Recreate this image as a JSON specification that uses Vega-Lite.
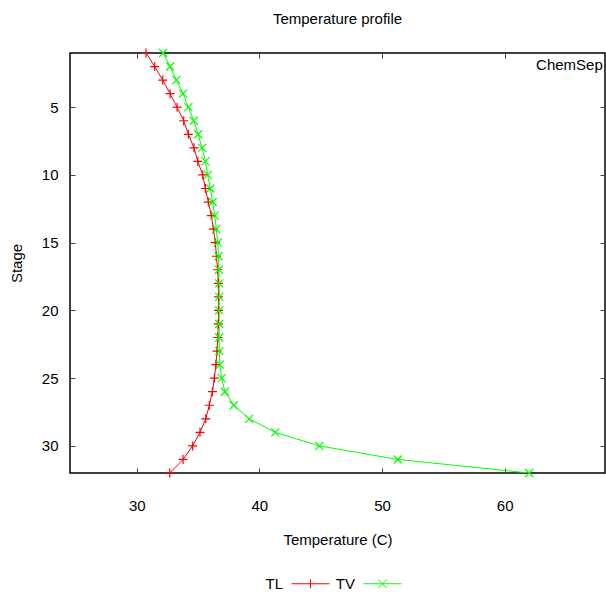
{
  "$schema": "https://vega.github.io/schema/vega-lite/v6.json",
  "width": 535,
  "height": 420,
  "autosize": {"type": "none"},
  "padding": {"left": 70, "top": 53, "right": 1, "bottom": 119},
  "background": "white",
  "config": {
    "font": "Liberation Sans",
    "view": {"stroke": "#000", "strokeWidth": 1.5},
    "axis": {
      "grid": false,
      "domain": false,
      "tickColor": "#444",
      "tickSize": -5,
      "labelFont": "Liberation Sans",
      "labelFontSize": 15,
      "labelColor": "#000",
      "titleFont": "Liberation Sans",
      "titleFontWeight": "normal",
      "titleFontSize": 15,
      "titleColor": "#000"
    }
  },
  "title": {
    "text": "Temperature profile",
    "fontSize": 15,
    "fontWeight": "normal",
    "font": "Liberation Sans",
    "anchor": "middle",
    "color": "#000",
    "offset": 19
  },
  "data": {
    "values": [
      {"stage": 1, "series": "TL", "T": 30.76},
      {"stage": 2, "series": "TL", "T": 31.47},
      {"stage": 3, "series": "TL", "T": 32.12},
      {"stage": 4, "series": "TL", "T": 32.72},
      {"stage": 5, "series": "TL", "T": 33.29},
      {"stage": 6, "series": "TL", "T": 33.83},
      {"stage": 7, "series": "TL", "T": 34.21},
      {"stage": 8, "series": "TL", "T": 34.67},
      {"stage": 9, "series": "TL", "T": 34.98},
      {"stage": 10, "series": "TL", "T": 35.38},
      {"stage": 11, "series": "TL", "T": 35.6},
      {"stage": 12, "series": "TL", "T": 35.84},
      {"stage": 13, "series": "TL", "T": 36.08},
      {"stage": 14, "series": "TL", "T": 36.25},
      {"stage": 15, "series": "TL", "T": 36.41},
      {"stage": 16, "series": "TL", "T": 36.5},
      {"stage": 17, "series": "TL", "T": 36.6},
      {"stage": 18, "series": "TL", "T": 36.65},
      {"stage": 19, "series": "TL", "T": 36.67},
      {"stage": 20, "series": "TL", "T": 36.67},
      {"stage": 21, "series": "TL", "T": 36.65},
      {"stage": 22, "series": "TL", "T": 36.61},
      {"stage": 23, "series": "TL", "T": 36.55},
      {"stage": 24, "series": "TL", "T": 36.46},
      {"stage": 25, "series": "TL", "T": 36.33},
      {"stage": 26, "series": "TL", "T": 36.17},
      {"stage": 27, "series": "TL", "T": 35.92},
      {"stage": 28, "series": "TL", "T": 35.63},
      {"stage": 29, "series": "TL", "T": 35.16},
      {"stage": 30, "series": "TL", "T": 34.56},
      {"stage": 31, "series": "TL", "T": 33.78},
      {"stage": 32, "series": "TL", "T": 32.69},
      {"stage": 1, "series": "TV", "T": 32.15},
      {"stage": 2, "series": "TV", "T": 32.72},
      {"stage": 3, "series": "TV", "T": 33.23},
      {"stage": 4, "series": "TV", "T": 33.78},
      {"stage": 5, "series": "TV", "T": 34.21},
      {"stage": 6, "series": "TV", "T": 34.65},
      {"stage": 7, "series": "TV", "T": 35.0},
      {"stage": 8, "series": "TV", "T": 35.33},
      {"stage": 9, "series": "TV", "T": 35.6},
      {"stage": 10, "series": "TV", "T": 35.79},
      {"stage": 11, "series": "TV", "T": 36.0},
      {"stage": 12, "series": "TV", "T": 36.2},
      {"stage": 13, "series": "TV", "T": 36.36},
      {"stage": 14, "series": "TV", "T": 36.49},
      {"stage": 15, "series": "TV", "T": 36.6},
      {"stage": 16, "series": "TV", "T": 36.67},
      {"stage": 17, "series": "TV", "T": 36.7},
      {"stage": 18, "series": "TV", "T": 36.72},
      {"stage": 19, "series": "TV", "T": 36.72},
      {"stage": 20, "series": "TV", "T": 36.72},
      {"stage": 21, "series": "TV", "T": 36.72},
      {"stage": 22, "series": "TV", "T": 36.72},
      {"stage": 23, "series": "TV", "T": 36.73},
      {"stage": 24, "series": "TV", "T": 36.78},
      {"stage": 25, "series": "TV", "T": 36.92},
      {"stage": 26, "series": "TV", "T": 37.19},
      {"stage": 27, "series": "TV", "T": 37.91},
      {"stage": 28, "series": "TV", "T": 39.16},
      {"stage": 29, "series": "TV", "T": 41.3},
      {"stage": 30, "series": "TV", "T": 44.89},
      {"stage": 31, "series": "TV", "T": 51.29},
      {"stage": 32, "series": "TV", "T": 62.0}
    ]
  },
  "resolve": {"axis": {"x": "independent", "y": "independent"}},
  "layer": [
    {
      "mark": {"type": "line", "strokeWidth": 1, "clip": true},
      "encoding": {
        "x": {
          "field": "T", "type": "quantitative",
          "scale": {"domain": [24.56, 68.18], "nice": false, "zero": false},
          "axis": {"orient": "bottom", "values": [30, 40, 50, 60], "labelPadding": 30, "title": "Temperature (C)", "titlePadding": 19}
        },
        "y": {
          "field": "stage", "type": "quantitative",
          "scale": {"domain": [1, 32], "reverse": true, "nice": false, "zero": false},
          "axis": {"orient": "left", "values": [5, 10, 15, 20, 25, 30], "labelPadding": 17, "title": "Stage", "titlePadding": 17}
        },
        "order": {"field": "stage", "type": "quantitative"},
        "color": {
          "field": "series", "type": "nominal",
          "scale": {"domain": ["TL", "TV"], "range": ["#ff0000", "#00ff00"]},
          "legend": {
            "orient": "none",
            "legendX": 221,
            "legendY": 511,
            "direction": "horizontal",
            "title": null,
            "symbolType": "M-1,0H1",
            "symbolSize": 1444,
            "symbolStrokeWidth": 1,
            "labelFont": "Liberation Sans",
            "labelFontSize": 15,
            "labelColor": "#000",
            "labelAlign": "right",
            "labelOffset": -47,
            "columnPadding": 3,
            "encode": {
              "symbols": {
                "update": {
                  "shape": [
                    {"test": "datum.value === 'TL'", "value": "M-1,0H1M0,-0.24V0.24"},
                    {"value": "M-1,0H1M-0.22,-0.22L0.22,0.22M-0.22,0.22L0.22,-0.22"}
                  ],
                  "fill": {"value": "transparent"}
                }
              }
            }
          }
        }
      }
    },
    {
      "transform": [{"filter": "datum.series === 'TL'"}],
      "mark": {"type": "point", "shape": "M-1,0H1M0,-1V1", "filled": false, "stroke": "#ff0000", "strokeWidth": 1.2, "size": 81, "opacity": 1, "clip": false},
      "encoding": {
        "x": {"field": "T", "type": "quantitative", "axis": {"orient": "top", "values": [30, 40, 50, 60], "labels": false, "title": null}},
        "y": {"field": "stage", "type": "quantitative", "axis": {"orient": "right", "values": [5, 10, 15, 20, 25, 30], "labels": false, "title": null}}
      }
    },
    {
      "transform": [{"filter": "datum.series === 'TV'"}],
      "mark": {"type": "point", "shape": "M-1,-1L1,1M-1,1L1,-1", "filled": false, "stroke": "#00ff00", "strokeWidth": 1.2, "size": 64, "opacity": 1, "clip": false},
      "encoding": {
        "x": {"field": "T", "type": "quantitative", "axis": null},
        "y": {"field": "stage", "type": "quantitative", "axis": null}
      }
    },
    {
      "data": {"values": [{"label": "ChemSep"}]},
      "mark": {"type": "text", "align": "right", "baseline": "middle", "font": "Liberation Sans", "fontSize": 15, "color": "#000"},
      "encoding": {
        "text": {"field": "label"},
        "x": {"datum": 68.0, "type": "quantitative", "axis": null},
        "y": {"datum": 1.85, "type": "quantitative", "axis": null}
      }
    }
  ]
}
